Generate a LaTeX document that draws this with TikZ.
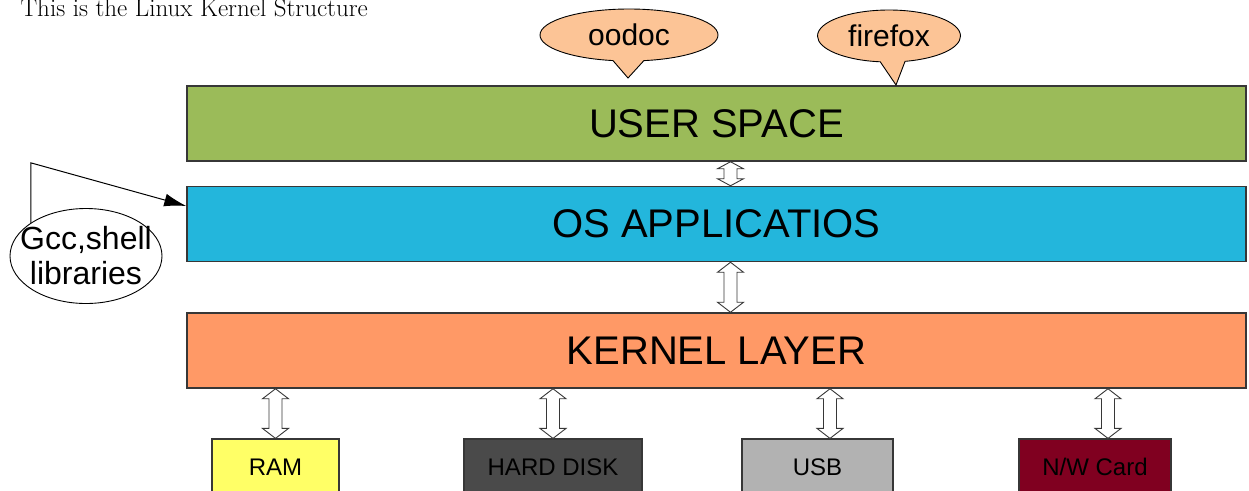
\documentclass[tikz,border=0pt]{standalone}
\usepackage{fontspec}
\setsansfont{Liberation Sans}
\usetikzlibrary{positioning,calc,shapes.geometric,shapes.callouts,arrows.meta}
\definecolor{usergreen}{RGB}{155,187,89}
\definecolor{oscyan}{RGB}{35,182,220}
\definecolor{kernelorange}{RGB}{255,153,102}
\definecolor{ramyellow}{RGB}{255,255,102}
\definecolor{diskgrey}{RGB}{74,74,74}
\definecolor{usbgrey}{RGB}{178,178,178}
\definecolor{cardred}{RGB}{128,0,32}
\definecolor{bubblepeach}{RGB}{252,196,150}
\definecolor{boxline}{RGB}{55,55,55}
\newcommand*{\hollowarrow}[4][10]{%
\path ([xshift=#4]#3.north |- #2.south) coordinate (#2-#3-top)
      ([xshift=#4]#3.north) coordinate (#2-#3-bottom);
\draw[hollowarrow] (#2-#3-top) -- ++(13,#1) -- ++(-6.5,0) -- ($(#2-#3-bottom)+(6.5,-#1)$)
	-- ++(6.5,0) -- (#2-#3-bottom) -- ++(-13,-#1) -- ++(6.5,0) -- ($(#2-#3-top)+(-6.5,#1)$)
	-- ++(-6.5,0) -- cycle;
}

\begin{document}
\begin{tikzpicture}[x=1pt,y=-1pt]
		\tikzset{
			basefont/.style = {font = \fontsize{40}{48}\selectfont\sffamily},
			layer/.style = {basefont, draw = boxline, line width = 1.5pt, minimum width = 1059pt, minimum height = 75pt, inner sep = 0pt},
			device/.style = {font = \fontsize{24}{28}\selectfont\sffamily, draw = boxline, line width = 1.2pt, minimum height = 56pt, inner sep = 0pt},
			bubble/.style = {ellipse callout, font = \fontsize{30}{36}\selectfont\sffamily, draw = black, line width = 0.9pt, fill = bubblepeach, minimum height = 52pt, inner sep = 0pt, callout pointer arc = 20},
			hollowarrow/.style = {draw = boxline, line width = 0.9pt, fill = white, line join = miter},
			pointer/.style = {line width = 1pt, -{Latex[length=22pt,width=13pt]}},
		};
		\clip (0,0) rectangle (1249,490);

		\node[anchor = base west, font = \fontsize{25}{30}\selectfont] (title) at (17,16.5) {This is the Linux Kernel Structure};

		\node[layer, fill = usergreen] (userspace) at (716.5,123.5) {USER SPACE};
		\node[layer, fill = oscyan, below = 24pt of userspace] (os) {OS APPLICATIOS};
		\node[layer, fill = kernelorange, below = 50pt of os] (kernel) {KERNEL LAYER};

		\node[device, fill = ramyellow, minimum width = 127pt] (ram) at (275.5,467) {RAM};
		\node[device, fill = diskgrey, minimum width = 178pt] (disk) at (553,467) {HARD DISK};
		\node[device, fill = usbgrey, minimum width = 151pt] (usb) at (817.5,467) {USB};
		\node[device, fill = cardred, minimum width = 152pt] (card) at (1095,467) {N/W Card};

		\node[bubble, minimum width = 178pt, callout absolute pointer = {(628,78)}] (oodoc) at (629,35) {oodoc};
		\node[bubble, minimum width = 143pt, callout absolute pointer = {(896,85)}] (firefox) at (889,36) {firefox};

		\node[ellipse, draw = black, line width = 0.9pt, minimum width = 152pt, minimum height = 95pt, inner xsep = -18pt, inner ysep = -3pt, align = center,
			font = \fontsize{32}{35}\selectfont\sffamily] (gcc) at (86,256) {Gcc,shell\\libraries};
		\draw[pointer] (gcc.149) -- ++(0,-60) -- ([yshift=18pt]os.west);

		\hollowarrow[7]{userspace}{os}{14pt}
		\hollowarrow{os}{kernel}{14pt}
		\hollowarrow{kernel}{ram}{0pt}
		\hollowarrow{kernel}{disk}{0pt}
		\hollowarrow{kernel}{usb}{12.5pt}
		\hollowarrow{kernel}{card}{13pt}
	\end{tikzpicture}
\end{document}
